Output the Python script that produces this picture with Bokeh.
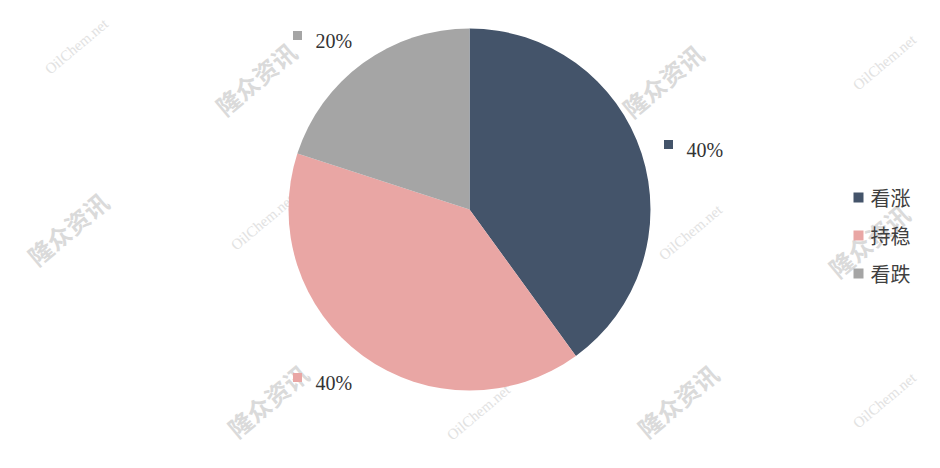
import math
from bokeh.plotting import figure
from bokeh.models import Range1d, ColumnDataSource
from bokeh.core.properties import value
from bokeh.embed import file_html
from bokeh.resources import INLINE

# ---- data ----
categories = ["看涨", "持稳", "看跌"]
shares = [40, 40, 20]
colors = ["#44546A", "#E9A6A4", "#A5A5A5"]

# ---- layout (pixel coordinates of the picture) ----
W, H = 924, 452
def Y(py):
    return 468 - py

cx, cy, R = 469, 209, 181
# data-label anchors (square centre) chosen like Excel's best-fit placement
label_sq = [(668, 144), (297, 377), (297, 35)]
label_txt_dx = 18
legend_x, legend_y0, legend_dy = 858, 197, 38

wm_cn = [(67, 228), (255, 78), (662, 80), (868, 240), (267, 400), (677, 400)]
wm_en = [(76, 46), (262, 222), (884, 62), (690, 232), (478, 412), (884, 400)]

p = figure(width=W, height=H, output_backend="svg", toolbar_location=None,
           x_range=Range1d(0, W), y_range=Range1d(468 - H, 468),
           min_border=0, outline_line_color=None)
p.axis.visible = False
p.grid.visible = False
p.background_fill_color = "white"
p.border_fill_color = "white"

ang = math.radians(40)
# watermarks (behind the pie)
p.text(x=[x for x, _ in wm_cn], y=[Y(y) for _, y in wm_cn], text=["隆众资讯"] * len(wm_cn),
       angle=ang, text_align="center", text_baseline="middle",
       text_font=value("Noto Sans CJK SC"), text_font_style="bold",
       text_font_size="24px", text_color="#DADADA")
p.text(x=[x for x, _ in wm_en], y=[Y(y) for _, y in wm_en], text=["OilChem.net"] * len(wm_en),
       angle=ang, text_align="center", text_baseline="middle",
       text_font=value("Liberation Serif"), text_font_size="15px", text_color="#E2E2E2")

# pie
total = sum(shares)
starts, ends = [], []
cum = 0
for s in shares:
    starts.append(math.pi / 2 - 2 * math.pi * cum / total)
    cum += s
    ends.append(math.pi / 2 - 2 * math.pi * cum / total)
src = ColumnDataSource(dict(start=starts, end=ends, color=colors, cat=categories,
                            x=[cx] * 3, y=[Y(cy)] * 3))
p.wedge(x="x", y="y", radius=R, start_angle="start", end_angle="end",
        direction="clock", fill_color="color", line_color=None, source=src)

# data labels
pct = [f"{round(100 * s / total)}%" for s in shares]
p.scatter(x=[x for x, _ in label_sq], y=[Y(y) for _, y in label_sq], marker="square",
          size=9, fill_color=colors, line_color=None)
p.text(x=[x + label_txt_dx for x, _ in label_sq], y=[Y(y + 5) for _, y in label_sq], text=pct,
       text_align="left", text_baseline="middle", text_font=value("Liberation Serif"),
       text_font_size="20px", text_color="#333333")

# legend
ly = [legend_y0 + i * legend_dy for i in range(len(categories))]
p.scatter(x=[legend_x] * 3, y=[Y(v) for v in ly], marker="square", size=10,
          fill_color=colors, line_color=None)
p.text(x=[legend_x + 12] * 3, y=[Y(v) for v in ly], text=categories,
       text_align="left", text_baseline="middle", text_font=value("Noto Sans CJK SC"),
       text_font_size="20px", text_color="#404040")

open("out.html", "w").write(file_html(p, INLINE))
